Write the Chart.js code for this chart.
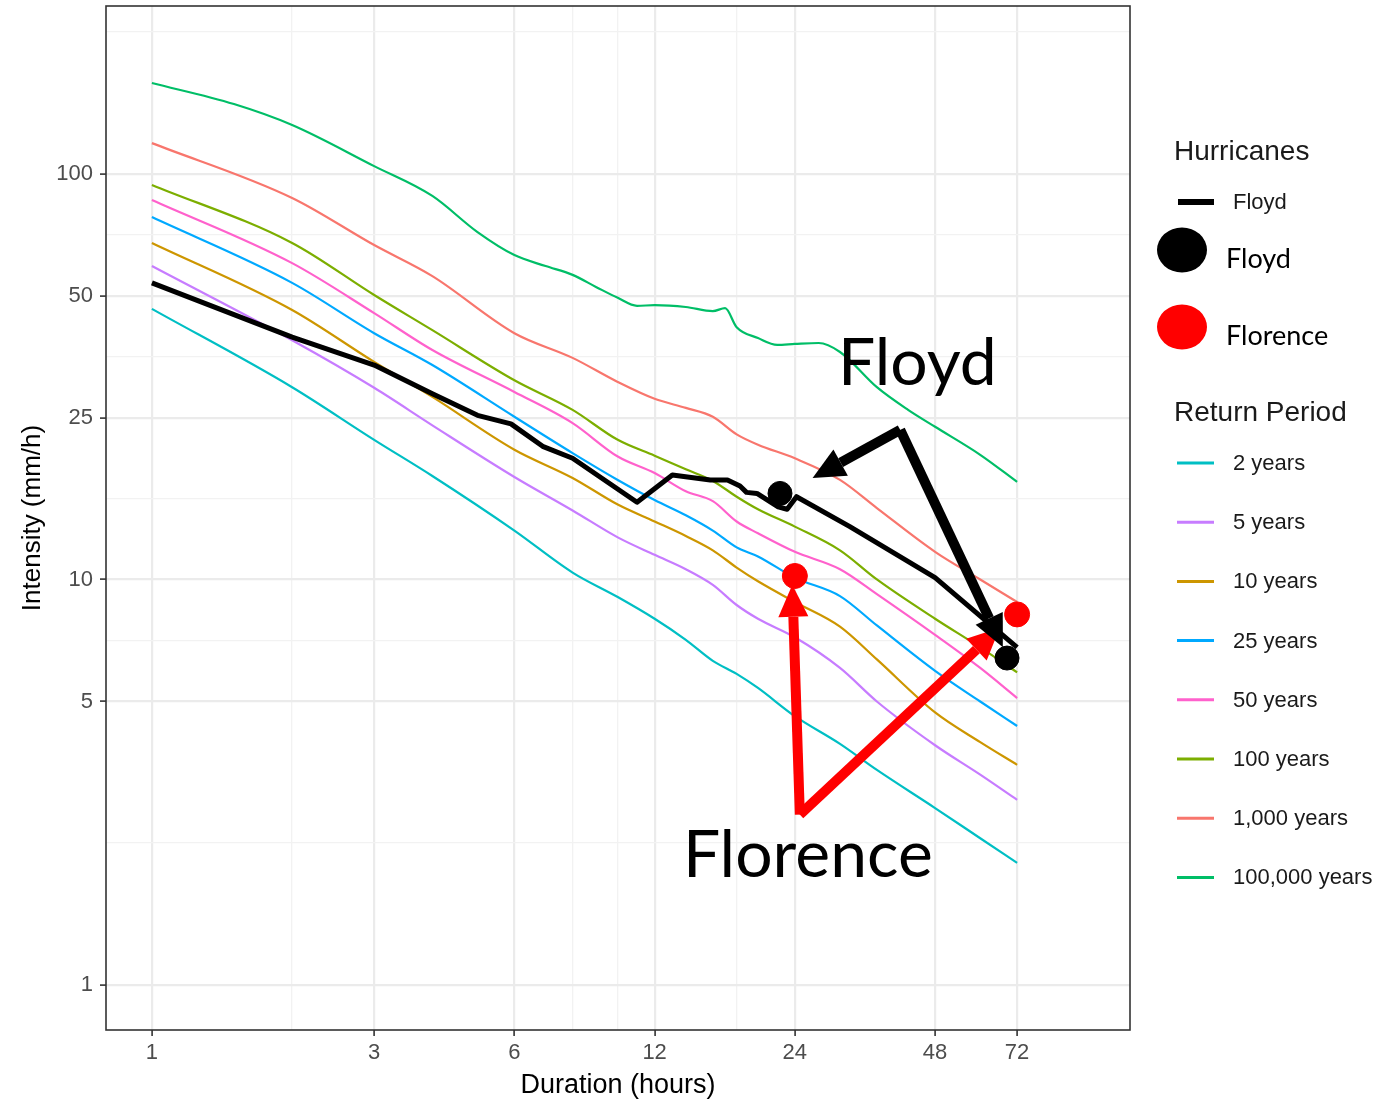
<!DOCTYPE html>
<html>
<head>
<meta charset="utf-8">
<title>Floyd and Florence rainfall intensity vs return period</title>
<script src="https://cdn.jsdelivr.net/npm/chart.js@4.4.1/dist/chart.umd.min.js"></script>
<style>
    html, body { margin: 0; padding: 0; background: #fff; }
    #wrap { width: 1387px; height: 1102px; }
</style>
</head>
<body>
<div id="wrap"><canvas id="myChart" width="1387" height="1102"></canvas></div>
<script>
/*
    Intensity-duration curves (log-log) with hurricanes Floyd and Florence
*/

// durations in hours for the return period curves
const durations = [1, 2, 3, 4, 6, 8, 10, 12, 14, 16, 18, 20, 24, 30, 36, 48, 60, 72];
// the 100,000 year curve is wigglier so it gets more durations
const durationsExtreme = [1, 1.5, 2, 3, 4, 5, 6, 7, 8, 9, 10, 11, 12, 14, 16, 17, 18, 20, 22, 24, 27, 30, 36, 42, 48, 60, 72];

// intensity (mm/h) for each return period
const rp2      = [46.5, 29.8, 22.1, 18.0, 13.2, 10.4, 9.05, 8.0, 7.1, 6.3, 5.85, 5.4, 4.6, 3.93, 3.39, 2.73, 2.30, 2.0];
const rp5      = [59.3, 38.9, 29.7, 24.0, 17.9, 14.8, 12.7, 11.5, 10.6, 9.7, 8.65, 8.0, 7.2, 6.05, 5.0, 3.9, 3.3, 2.86];
const rp10     = [67.6, 46.2, 34.4, 28.2, 20.9, 17.8, 15.3, 13.9, 12.8, 11.8, 10.7, 9.9, 8.8, 7.65, 6.35, 4.7, 3.97, 3.49];
const rp25     = [78.3, 53.9, 40.5, 33.8, 25.2, 20.5, 17.6, 15.7, 14.4, 13.2, 12.0, 11.4, 10.1, 9.1, 7.7, 5.95, 5.0, 4.35];
const rp50     = [86.3, 60.3, 45.4, 36.8, 29.0, 24.3, 20.1, 18.3, 16.5, 15.6, 13.9, 13.0, 11.7, 10.6, 9.2, 7.3, 6.05, 5.1];
const rp100    = [94.0, 67.6, 50.3, 41.2, 31.0, 26.2, 22.1, 20.2, 18.7, 17.5, 16.0, 14.9, 13.5, 11.8, 10.0, 8.0, 6.8, 5.9];
const rp1000   = [119.2, 87.3, 66.8, 56.0, 40.5, 35.2, 30.7, 27.9, 26.5, 25.2, 22.8, 21.5, 19.9, 17.6, 15.0, 11.7, 10.0, 8.8];
const rp100000 = [167.7, 148.8, 132.1, 104.6, 88.3, 71.9, 63.1, 59.3, 56.4, 52.6, 49.5, 47.3, 47.5, 47.0, 45.9, 46.7,
                  41.9, 39.4, 37.9, 38.1, 38.3, 36.4, 29.8, 26.2, 23.8, 20.3, 17.4];

const returnLabels = ['2 years', '5 years', '10 years', '25 years', '50 years', '100 years', '1,000 years', '100,000 years'];
const returnColors = ['#00BFC4', '#C77CFF', '#CD9600', '#00A9FF', '#FF61CC', '#7CAE00', '#F8766D', '#00BE67'];
const returnSeries = [rp2, rp5, rp10, rp25, rp50, rp100, rp1000, rp100000];
const returnDurations = [durations, durations, durations, durations, durations, durations, durations, durationsExtreme];

// hurricane Floyd observed intensity
const floydDurations = [1, 2, 3, 4, 5, 5.9, 6.9, 8, 11, 13.1, 15.8, 17.2, 18.3, 18.9, 19.9, 22.1, 23.1, 24.2, 31.5, 48, 72];
const floydIntensity = [53.9, 39.6, 33.8, 28.7, 25.4, 24.2, 21.3, 19.9, 15.5, 18.1, 17.6, 17.6, 17.0, 16.4, 16.3, 15.1, 14.9, 16.0, 13.5, 10.1, 6.8];

// single points
const floydPointDur = [22.3, 68.5];
const floydPointInt = [16.3, 6.4];
const florencePointDur = [24, 72];
const florencePointInt = [10.2, 8.2];

// axis breaks
const xBreaks = [1, 3, 6, 12, 24, 48, 72];
const xMinor = [2, 8, 10, 18];
const yBreaks = [1, 5, 10, 25, 50, 100];
const yMinor = [2.24, 7.07, 15.8, 35.4, 70.7, 224];

// hand drawn notes, in data coordinates (duration, intensity)
const notes = {
    floyd:    { text: 'Floyd',    at: [29.7, 30.2], apex: [40.4, 23.4], tips: [[26.2, 17.8], [67.1, 6.8]], color: '#000000' },
    florence: { text: 'Florence', at: [13.8, 1.85], apex: [24.6, 2.63], tips: [[23.7, 9.7], [66.1, 7.6]], color: '#FF0000' }
};

function toPoints(xs, ys){
    return xs.map((x, i) => ({x: x, y: ys[i]}));
}

const datasets = [
    {   // Florence dots
        type: 'scatter', data: toPoints(florencePointDur, florencePointInt),
        backgroundColor: '#FF0000', borderColor: '#FF0000', pointRadius: 12.5, order: 0
    },
    {   // Floyd dots
        type: 'scatter', data: toPoints(floydPointDur, floydPointInt),
        backgroundColor: '#000000', borderColor: '#000000', pointRadius: 12, order: 0
    },
    {   // Floyd line
        label: 'Floyd', data: toPoints(floydDurations, floydIntensity),
        borderColor: '#000000', borderWidth: 5, pointRadius: 0, tension: 0, fill: false, order: 1,
        borderJoinStyle: 'round'
    }
];
returnSeries.forEach((vals, i) => {
    datasets.push({
        label: returnLabels[i],
        data: toPoints(returnDurations[i], vals),
        borderColor: returnColors[i],
        borderWidth: 2.2,
        pointRadius: 0,
        cubicInterpolationMode: 'monotone',
        fill: false,
        order: 20 - i
    });
});

const tickFont = {family: 'Liberation Sans', size: 22};
const titleFont = {family: 'Liberation Sans', size: 27};

function gridOpts(breaks){
    return {
        color: ctx => (ctx.tick && breaks.includes(ctx.tick.value)) ? '#EBEBEB' : '#F2F2F2',
        lineWidth: ctx => (ctx.tick && breaks.includes(ctx.tick.value)) ? 2.2 : 1.3,
        tickLength: 6,
        tickColor: ctx => (ctx.tick && breaks.includes(ctx.tick.value)) ? '#333333' : 'rgba(0,0,0,0)',
        tickWidth: 1.6
    };
}

function drawArrow(ctx, x0, y0, x1, y1, color){
    const head = 32, half = 15;
    const ang = Math.atan2(y1 - y0, x1 - x0);
    const bx = x1 - head * Math.cos(ang), by = y1 - head * Math.sin(ang);
    ctx.strokeStyle = color;
    ctx.fillStyle = color;
    ctx.lineWidth = 10;
    ctx.lineCap = 'butt';
    ctx.beginPath();
    ctx.moveTo(x0, y0);
    ctx.lineTo(bx, by);
    ctx.stroke();
    ctx.beginPath();
    ctx.moveTo(x1, y1);
    ctx.lineTo(bx + half * Math.sin(ang), by - half * Math.cos(ang));
    ctx.lineTo(bx - half * Math.sin(ang), by + half * Math.cos(ang));
    ctx.closePath();
    ctx.fill();
}

const decorations = {
    id: 'decorations',
    afterDatasetsDraw(chart){
        const {ctx, chartArea: a, scales} = chart;
        // panel border
        ctx.save();
        ctx.strokeStyle = '#333333';
        ctx.lineWidth = 1.6;
        ctx.strokeRect(a.left, a.top, a.right - a.left, a.bottom - a.top);

        // arrows and big labels
        ['florence', 'floyd'].forEach(k => {
            const n = notes[k];
            const ax = scales.x.getPixelForValue(n.apex[0]);
            const ay = scales.y.getPixelForValue(n.apex[1]);
            n.tips.forEach(t => {
                drawArrow(ctx, ax, ay, scales.x.getPixelForValue(t[0]), scales.y.getPixelForValue(t[1]), n.color);
            });
        });
        ['floyd', 'florence'].forEach(k => {
            const n = notes[k];
            ctx.fillStyle = '#000000';
            ctx.font = '66px Lato';
            ctx.textAlign = 'left';
            ctx.textBaseline = 'alphabetic';
            ctx.fillText(n.text, scales.x.getPixelForValue(n.at[0]), scales.y.getPixelForValue(n.at[1]));
        });
        ctx.restore();
    },
    afterDraw(chart){
        const {ctx, chartArea: a} = chart;
        const lx = a.right + 44;
        ctx.save();
        ctx.textAlign = 'left';
        ctx.textBaseline = 'middle';

        // Hurricanes block
        ctx.fillStyle = '#1A1A1A';
        ctx.font = '28px "Liberation Sans"';
        ctx.fillText('Hurricanes', lx, 152);
        ctx.strokeStyle = '#000000';
        ctx.lineWidth = 6;
        ctx.beginPath();
        ctx.moveTo(lx + 4, 202);
        ctx.lineTo(lx + 40, 202);
        ctx.stroke();
        ctx.font = '22px "Liberation Sans"';
        ctx.fillText('Floyd', lx + 59, 203);

        ctx.fillStyle = '#000000';
        ctx.beginPath();
        ctx.ellipse(lx + 8, 250, 25, 22.5, 0, 0, Math.PI * 2);
        ctx.fill();
        ctx.fillStyle = '#FF0000';
        ctx.beginPath();
        ctx.ellipse(lx + 8, 327, 25, 22.5, 0, 0, Math.PI * 2);
        ctx.fill();
        ctx.fillStyle = '#000000';
        ctx.font = '27px Lato';
        ctx.fillText('Floyd', lx + 52, 259);
        ctx.fillText('Florence', lx + 52, 336);

        // Return period block
        ctx.fillStyle = '#1A1A1A';
        ctx.font = '28px "Liberation Sans"';
        ctx.fillText('Return Period', lx, 413);
        ctx.font = '22px "Liberation Sans"';
        returnLabels.forEach((lab, i) => {
            const y = 463 + i * 59.2;
            ctx.strokeStyle = returnColors[i];
            ctx.lineWidth = 3;
            ctx.beginPath();
            ctx.moveTo(lx + 3, y);
            ctx.lineTo(lx + 40, y);
            ctx.stroke();
            ctx.fillStyle = '#1A1A1A';
            ctx.fillText(lab, lx + 59, y + 1);
        });
        ctx.restore();
    }
};

const myChart = new Chart(document.getElementById('myChart'), {
    type: 'line',
    data: { datasets: datasets },
    options: {
        responsive: false,
        devicePixelRatio: 1,
        animation: false,
        layout: { autoPadding: false, padding: {left: 0, top: 6, right: 257, bottom: 0} },
        scales: {
            x: {
                type: 'logarithmic',
                min: 0.797,
                max: 125.8,
                bounds: 'data',
                afterBuildTicks: s => { s.ticks = xBreaks.concat(xMinor).sort((a, b) => a - b).map(v => ({value: v})); },
                afterFit: s => { s.height = 72; s.paddingLeft = 0; s.paddingRight = 0; },
                ticks: {
                    autoSkip: false, maxRotation: 0, color: '#4D4D4D', font: tickFont, padding: 4,
                    callback: v => xBreaks.includes(v) ? String(v) : ''
                },
                grid: gridOpts(xBreaks),
                border: { display: false },
                title: { display: true, text: 'Duration (hours)', color: '#000000', font: titleFont, padding: {top: 0, bottom: 0} }
            },
            y: {
                type: 'logarithmic',
                min: 0.774,
                max: 259.7,
                bounds: 'data',
                afterBuildTicks: s => { s.ticks = yBreaks.concat(yMinor).sort((a, b) => a - b).map(v => ({value: v})); },
                afterFit: s => { s.width = 106; s.paddingTop = 0; s.paddingBottom = 0; },
                ticks: {
                    autoSkip: false, color: '#4D4D4D', font: tickFont, padding: 7,
                    callback: v => yBreaks.includes(v) ? String(v) : ''
                },
                grid: gridOpts(yBreaks),
                border: { display: false },
                title: { display: true, text: 'Intensity (mm/h)', color: '#000000', font: {family: 'Liberation Sans', size: 26}, padding: {top: 17, bottom: 0} }
            }
        },
        plugins: {
            legend: { display: false },
            tooltip: { enabled: false }
        }
    },
    plugins: [decorations]
});
</script>
</body>
</html>
